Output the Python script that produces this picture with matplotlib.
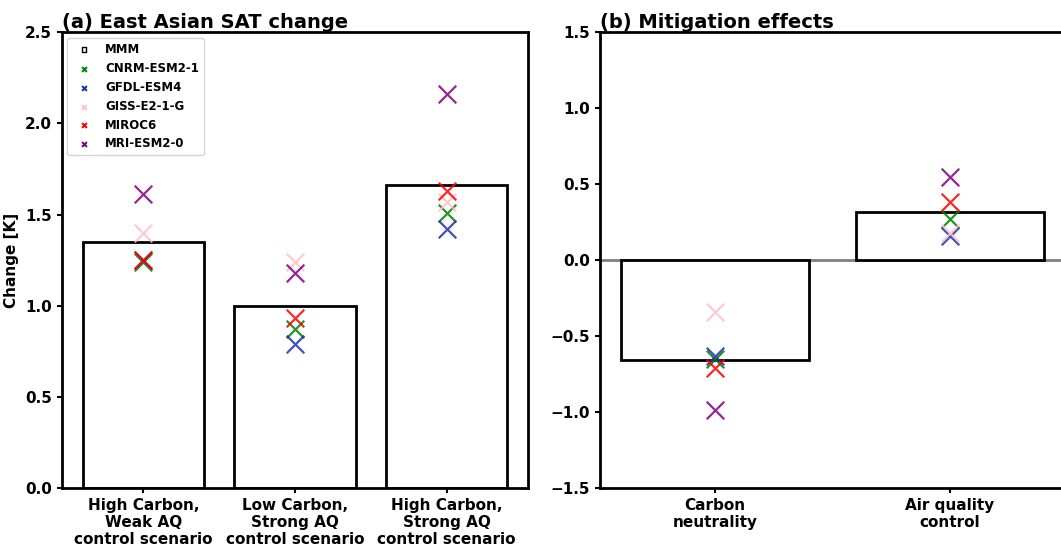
import numpy as np
import matplotlib
matplotlib.use("Agg")
import matplotlib.pyplot as plt

plt.rcParams['font.weight'] = 'bold'
plt.rcParams['axes.labelweight'] = 'bold'
plt.rcParams['axes.titleweight'] = 'bold'

# Panel (a): East Asian SAT change
scenarios = ["High Carbon,\nWeak AQ\ncontrol scenario",
             "Low Carbon,\nStrong AQ\ncontrol scenario",
             "High Carbon,\nStrong AQ\ncontrol scenario"]
mmm_sat = [1.35, 1.00, 1.66]

# Panel (b): Mitigation effects
effects = ["Carbon\nneutrality", "Air quality\ncontrol"]
mmm_eff = [-0.66, 0.315]

models = ["CNRM-ESM2-1", "GFDL-ESM4", "GISS-E2-1-G", "MIROC6", "MRI-ESM2-0"]
colors = ["green", "#2233aa", "pink", "red", "purple"]

sat_models = {
    "CNRM-ESM2-1": [1.24, 0.87, 1.51],
    "GFDL-ESM4":   [1.25, 0.79, 1.42],
    "GISS-E2-1-G": [1.40, 1.24, 1.57],
    "MIROC6":      [1.25, 0.93, 1.63],
    "MRI-ESM2-0":  [1.61, 1.18, 2.16],
}
eff_models = {
    "CNRM-ESM2-1": [-0.65, 0.27],
    "GFDL-ESM4":   [-0.63, 0.16],
    "GISS-E2-1-G": [-0.34, 0.18],
    "MIROC6":      [-0.71, 0.38],
    "MRI-ESM2-0":  [-0.99, 0.55],
}

fig = plt.figure(figsize=(10.61, 5.47), dpi=100)
ax1 = fig.add_axes([0.058, 0.108, 0.44, 0.833])
ax2 = fig.add_axes([0.5655, 0.108, 0.4385, 0.833])

# (a)
x1 = np.arange(len(scenarios))
ax1.bar(x1, mmm_sat, width=0.8, facecolor='white', edgecolor='black', linewidth=2)
for m, c in zip(models, colors):
    ax1.scatter(x1, sat_models[m], marker='x', s=160, color=c, linewidths=1.6, alpha=0.85, zorder=3)
ax1.set_ylim(0, 2.5)
ax1.set_xticks(x1)
ax1.set_xticklabels(scenarios, fontsize=11)
ax1.set_ylabel("Change [K]", fontsize=11)
ax1.set_title("(a) East Asian SAT change", loc='left', fontsize=14, pad=2)
ax1.tick_params(labelsize=11, width=1.5)

# legend handles
handles = [ax1.scatter([], [], marker='s', facecolor='none', edgecolor='black', s=12, label='MMM')]
for m, c in zip(models, colors):
    handles.append(ax1.scatter([], [], marker='x', color=c, s=12, label=m))
ax1.legend(handles=handles, loc='upper left', fontsize=8.5, frameon=True, handletextpad=0.8)

# (b)
x2 = np.arange(len(effects))
ax2.bar(x2, mmm_eff, width=0.8, facecolor='white', edgecolor='black', linewidth=2, zorder=2)
ax2.axhline(0, color='gray', linewidth=2, zorder=1)
for m, c in zip(models, colors):
    ax2.scatter(x2, eff_models[m], marker='x', s=160, color=c, linewidths=1.6, alpha=0.85, zorder=3)
ax2.set_ylim(-1.5, 1.5)
ax2.set_xticks(x2)
ax2.set_xticklabels(effects, fontsize=11)
ax2.set_title("(b) Mitigation effects", loc='left', fontsize=14, pad=2)
ax2.tick_params(labelsize=11, width=1.5)

for ax in (ax1, ax2):
    for s in ax.spines.values():
        s.set_linewidth(2)

fig.savefig("out.png", dpi=100)
